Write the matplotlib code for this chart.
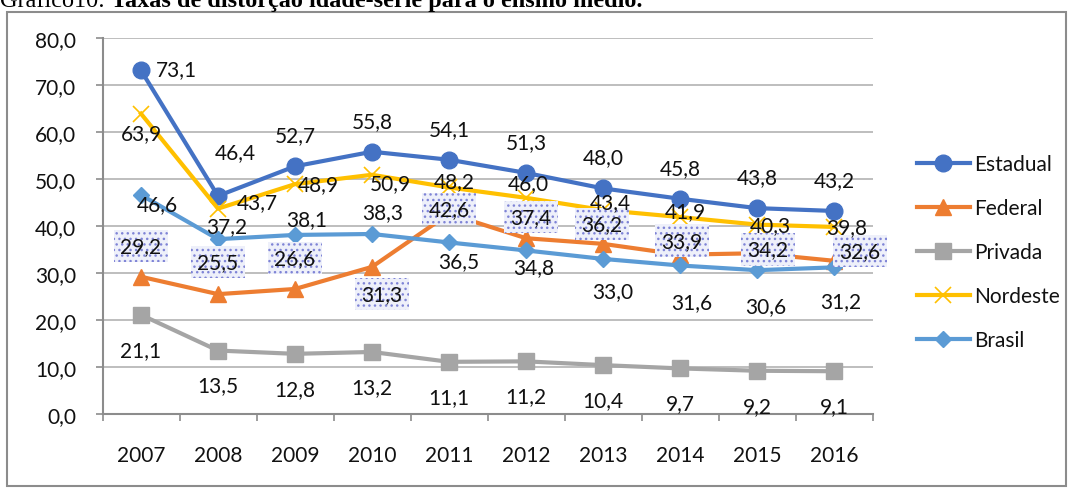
import matplotlib
matplotlib.use("Agg")
import matplotlib.pyplot as plt
from matplotlib.patches import Rectangle

# dados
anos = ["2007", "2008", "2009", "2010", "2011", "2012", "2013", "2014", "2015", "2016"]
estadual = [73.1, 46.4, 52.7, 55.8, 54.1, 51.3, 48.0, 45.8, 43.8, 43.2]
federal = [29.2, 25.5, 26.6, 31.3, 42.6, 37.4, 36.2, 33.9, 34.2, 32.6]
privada = [21.1, 13.5, 12.8, 13.2, 11.1, 11.2, 10.4, 9.7, 9.2, 9.1]
nordeste = [63.9, 43.7, 48.9, 50.9, 48.2, 46.0, 43.4, 41.9, 40.3, 39.8]
brasil = [46.6, 37.2, 38.1, 38.3, 36.5, 34.8, 33.0, 31.6, 30.6, 31.2]
yticks = [0, 10, 20, 30, 40, 50, 60, 70, 80]

# label offsets in pixels (dx, dy)
off_estadual = [(35, 1), (17, 44)] + [(0, 31)] * 8
off_federal = [(0, 31), (0, 32), (0, 31), (10, -27), (0, 5), (5, 21), (-1, 20), (2, 14), (11, 4), (26, 10)]
off_privada = [(0, -35)] * 10
off_nordeste = [(0, -19), (39, 7), (23, 0), (18, -8), (5, 6), (2, 15), (7, 8), (5, 6), (13, -1), (13, 0)]
off_brasil = [(16, -9), (9, 13), (12, 16), (11, 22), (10, -19), (8, -17), (10, -32), (12, -37), (9, -36), (7, -34)]

FONT = "Lato"
FS = 15
plt.rcParams["font.family"] = [FONT, "DejaVu Sans"]
plt.rcParams["hatch.linewidth"] = 1.0

W, H = 1071, 489
fig = plt.figure(figsize=(W / 100, H / 100), dpi=100)
ax = fig.add_axes([102.5 / W, (H - 415) / H, 770 / W, 376 / H])

x = list(range(len(anos)))
series = [
    ("Estadual", estadual, "#4472C4", "o", 12, off_estadual),
    ("Federal", federal, "#ED7D31", "^", 12, off_federal),
    ("Privada", privada, "#A5A5A5", "s", 11, off_privada),
    ("Nordeste", nordeste, "#FFC000", "x", 11, off_nordeste),
    ("Brasil", brasil, "#5B9BD5", "D", 8, off_brasil),
]

handles = []
for name, vals, col, mk, ms, offs in series:
    if mk == "x":
        h, = ax.plot(x, vals, color=col, lw=3, marker=mk, ms=ms, mew=1.2, zorder=3, label=name)
    else:
        h, = ax.plot(x, vals, color=col, lw=3, marker=mk, ms=ms, zorder=3, label=name)
    handles.append(h)

for name, vals, col, mk, ms, offs in series:
    for i, v in enumerate(vals):
        txt = f"{v:.1f}".replace(".", ",")
        kw = {}
        if name == "Federal":
            kw["bbox"] = dict(boxstyle="square,pad=0.3", facecolor="#eef0fa",
                              edgecolor="#7f84d6", lw=0, hatch="...")
        ax.annotate(txt, (i, v), xytext=offs[i], textcoords="offset pixels",
                    ha="center", va="center", fontsize=FS, color="#111111",
                    zorder=5, **kw)

ax.set_xlim(-0.5, len(anos) - 0.5)
ax.set_ylim(0, 80)
ax.set_yticks(yticks)
ax.set_yticklabels([f"{t:.1f}".replace(".", ",") for t in yticks], fontsize=FS, color="#111111")
ax.set_xticks(x)
ax.set_xticklabels(anos, fontsize=FS, color="#111111")
ax.set_xticks([i - 0.5 for i in range(len(anos) + 1)], minor=True)
ax.tick_params(axis="x", which="major", length=0, pad=22)
ax.tick_params(axis="x", which="minor", length=5, width=1.2, color="#8c8c8c", direction="out")
ax.tick_params(axis="y", length=5, width=1.2, color="#8c8c8c", direction="out", pad=14)

ax.grid(axis="y", color="#b3b3b3", lw=1.2, zorder=0)
ax.set_axisbelow(True)
for s in ["top", "right"]:
    ax.spines[s].set_visible(False)
for s in ["left", "bottom"]:
    ax.spines[s].set_color("#8c8c8c")
    ax.spines[s].set_linewidth(1.5)

leg = fig.legend(handles=handles, loc="center left", bbox_to_anchor=(907 / W, 1 - 253 / H),
                 frameon=False, fontsize=FS, handlelength=2.5, handletextpad=0.2,
                 labelspacing=1.15, borderpad=0)
for t in leg.get_texts():
    t.set_color("#111111")

# outer chart border
fig.patches.append(Rectangle((7 / W, 2 / H), (1066 - 7) / W, (487 - 13) / H,
                             transform=fig.transFigure, fill=False,
                             edgecolor="#8c8c8c", lw=1.5))

# title, cut off at the top
t1 = fig.text(0, 1 - 7 / H, "Gráfico10: ", fontsize=17.5, family="Liberation Serif",
              va="baseline", ha="left")
fig.canvas.draw()
bb = t1.get_window_extent()
fig.text(bb.x1 / W, 1 - 7 / H, "Taxas de distorção idade-série para o ensino médio.",
         fontsize=17.5, family="Liberation Serif", weight="bold", va="baseline", ha="left")

fig.savefig("out.png", dpi=100)
